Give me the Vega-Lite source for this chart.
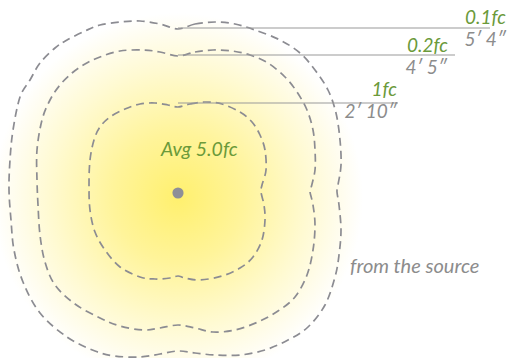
{
  "$schema": "https://vega.github.io/schema/vega-lite/v6.json",
  "width": 510,
  "height": 358,
  "autosize": {"type": "none"},
  "padding": 0,
  "background": "#ffffff",
  "config": {"view": {"stroke": null}},
  "datasets": {
    "contours": [
      {"c":"o","i":1,"dx":0,"dy":163},{"c":"o","i":2,"dx":17,"dy":168},{"c":"o","i":3,"dx":37,"dy":170},{"c":"o","i":4,"dx":57,"dy":168},{"c":"o","i":5,"dx":77,"dy":162},{"c":"o","i":6,"dx":102,"dy":152},{"c":"o","i":7,"dx":122,"dy":139},{"c":"o","i":8,"dx":137,"dy":122},{"c":"o","i":9,"dx":150,"dy":102},{"c":"o","i":10,"dx":158,"dy":79},{"c":"o","i":11,"dx":162,"dy":52},{"c":"o","i":12,"dx":163,"dy":27},{"c":"o","i":13,"dx":160,"dy":7},{"c":"o","i":14,"dx":159,"dy":0},{"c":"o","i":15,"dx":161,"dy":-13},{"c":"o","i":16,"dx":163,"dy":-38},{"c":"o","i":17,"dx":161,"dy":-63},{"c":"o","i":18,"dx":157,"dy":-85},{"c":"o","i":19,"dx":147,"dy":-113},{"c":"o","i":20,"dx":130,"dy":-135},{"c":"o","i":21,"dx":110,"dy":-148},{"c":"o","i":22,"dx":87,"dy":-158},{"c":"o","i":23,"dx":62,"dy":-163},{"c":"o","i":24,"dx":37,"dy":-163},{"c":"o","i":25,"dx":17,"dy":-161},{"c":"o","i":26,"dx":0,"dy":-159},{"c":"o","i":27,"dx":-18,"dy":-162},{"c":"o","i":28,"dx":-38,"dy":-165},{"c":"o","i":29,"dx":-63,"dy":-164},{"c":"o","i":30,"dx":-83,"dy":-159},{"c":"o","i":31,"dx":-111,"dy":-145},{"c":"o","i":32,"dx":-138,"dy":-121},{"c":"o","i":33,"dx":-155,"dy":-90},{"c":"o","i":34,"dx":-164,"dy":-58},{"c":"o","i":35,"dx":-167,"dy":-28},{"c":"o","i":36,"dx":-169,"dy":2},{"c":"o","i":37,"dx":-168,"dy":32},{"c":"o","i":38,"dx":-165,"dy":62},{"c":"o","i":39,"dx":-158,"dy":95},{"c":"o","i":40,"dx":-148,"dy":112},{"c":"o","i":41,"dx":-138,"dy":129},{"c":"o","i":42,"dx":-123,"dy":144},{"c":"o","i":43,"dx":-111,"dy":152},{"c":"o","i":44,"dx":-93,"dy":161},{"c":"o","i":45,"dx":-78,"dy":167},{"c":"o","i":46,"dx":-58,"dy":170},{"c":"o","i":47,"dx":-38,"dy":171},{"c":"o","i":48,"dx":-18,"dy":168},
      {"c":"m","i":1,"dx":0,"dy":136},{"c":"m","i":2,"dx":17,"dy":140},{"c":"m","i":3,"dx":35,"dy":142},{"c":"m","i":4,"dx":54,"dy":141},{"c":"m","i":5,"dx":72,"dy":137},{"c":"m","i":6,"dx":90,"dy":129},{"c":"m","i":7,"dx":107,"dy":115},{"c":"m","i":8,"dx":119,"dy":100},{"c":"m","i":9,"dx":129,"dy":82},{"c":"m","i":10,"dx":135,"dy":62},{"c":"m","i":11,"dx":137,"dy":42},{"c":"m","i":12,"dx":137,"dy":22},{"c":"m","i":13,"dx":133,"dy":4},{"c":"m","i":14,"dx":132,"dy":0},{"c":"m","i":15,"dx":135,"dy":-13},{"c":"m","i":16,"dx":137,"dy":-33},{"c":"m","i":17,"dx":135,"dy":-58},{"c":"m","i":18,"dx":129,"dy":-83},{"c":"m","i":19,"dx":117,"dy":-105},{"c":"m","i":20,"dx":100,"dy":-119},{"c":"m","i":21,"dx":80,"dy":-130},{"c":"m","i":22,"dx":57,"dy":-138},{"c":"m","i":23,"dx":35,"dy":-140},{"c":"m","i":24,"dx":17,"dy":-136},{"c":"m","i":25,"dx":0,"dy":-133},{"c":"m","i":26,"dx":-18,"dy":-136},{"c":"m","i":27,"dx":-35,"dy":-138},{"c":"m","i":28,"dx":-58,"dy":-134},{"c":"m","i":29,"dx":-78,"dy":-126},{"c":"m","i":30,"dx":-103,"dy":-112},{"c":"m","i":31,"dx":-123,"dy":-93},{"c":"m","i":32,"dx":-133,"dy":-70},{"c":"m","i":33,"dx":-138,"dy":-43},{"c":"m","i":34,"dx":-140,"dy":-13},{"c":"m","i":35,"dx":-141,"dy":12},{"c":"m","i":36,"dx":-141,"dy":42},{"c":"m","i":37,"dx":-136,"dy":72},{"c":"m","i":38,"dx":-128,"dy":92},{"c":"m","i":39,"dx":-118,"dy":107},{"c":"m","i":40,"dx":-106,"dy":119},{"c":"m","i":41,"dx":-93,"dy":128},{"c":"m","i":42,"dx":-78,"dy":135},{"c":"m","i":43,"dx":-58,"dy":141},{"c":"m","i":44,"dx":-35,"dy":142},{"c":"m","i":45,"dx":-18,"dy":140},
      {"c":"i","i":1,"dx":0,"dy":85},{"c":"i","i":2,"dx":12,"dy":88},{"c":"i","i":3,"dx":27,"dy":90},{"c":"i","i":4,"dx":44,"dy":88},{"c":"i","i":5,"dx":62,"dy":80},{"c":"i","i":6,"dx":74,"dy":70},{"c":"i","i":7,"dx":82,"dy":57},{"c":"i","i":8,"dx":87,"dy":42},{"c":"i","i":9,"dx":88,"dy":22},{"c":"i","i":10,"dx":84,"dy":7},{"c":"i","i":11,"dx":83,"dy":0},{"c":"i","i":12,"dx":86,"dy":-13},{"c":"i","i":13,"dx":87,"dy":-28},{"c":"i","i":14,"dx":84,"dy":-48},{"c":"i","i":15,"dx":75,"dy":-65},{"c":"i","i":16,"dx":62,"dy":-76},{"c":"i","i":17,"dx":44,"dy":-84},{"c":"i","i":18,"dx":22,"dy":-88},{"c":"i","i":19,"dx":7,"dy":-86},{"c":"i","i":20,"dx":0,"dy":-84},{"c":"i","i":21,"dx":-8,"dy":-86},{"c":"i","i":22,"dx":-23,"dy":-87},{"c":"i","i":23,"dx":-38,"dy":-85},{"c":"i","i":24,"dx":-58,"dy":-75},{"c":"i","i":25,"dx":-73,"dy":-58},{"c":"i","i":26,"dx":-83,"dy":-40},{"c":"i","i":27,"dx":-88,"dy":-18},{"c":"i","i":28,"dx":-89,"dy":7},{"c":"i","i":29,"dx":-88,"dy":32},{"c":"i","i":30,"dx":-84,"dy":52},{"c":"i","i":31,"dx":-78,"dy":65},{"c":"i","i":32,"dx":-68,"dy":75},{"c":"i","i":33,"dx":-53,"dy":83},{"c":"i","i":34,"dx":-38,"dy":88},{"c":"i","i":35,"dx":-23,"dy":89},{"c":"i","i":36,"dx":-10,"dy":87}
    ],
    "leaders": [
      {"dx":0,"dx2":312,"dy":164},
      {"dx":0,"dx2":277,"dy":137},
      {"dx":0,"dx2":220,"dy":89}
    ],
    "fcLabels": [
      {"t":"0.1fc","dx":328,"dy":168},
      {"t":"0.2fc","dx":270,"dy":140},
      {"t":"1fc","dx":219,"dy":96}
    ],
    "distLabels": [
      {"t":"5′ 4″","dx":328,"dy":146},
      {"t":"4′ 5″","dx":269,"dy":118},
      {"t":"2′ 10″","dx":219,"dy":74}
    ]
  },
  "layer": [
    {
      "data": {"values": [{"dx": 0, "dy": -6}]},
      "mark": {
        "type": "point", "shape": "circle", "filled": true, "opacity": 1, "size": 136900, "strokeWidth": 0, "clip": true,
        "fill": {"gradient": "radial", "x1": 0.5, "y1": 0.5, "r1": 0, "x2": 0.5, "y2": 0.5, "r2": 0.5,
          "stops": [
            {"offset": 0, "color": "#fff06e"},
            {"offset": 0.35, "color": "#fff49a"},
            {"offset": 0.7, "color": "#fffad2"},
            {"offset": 0.9, "color": "#fffdf0"},
            {"offset": 1, "color": "#ffffff"}
          ]}
      },
      "encoding": {
        "x": {"field": "dx", "type": "quantitative", "scale": {"domain": [-178, 332], "nice": false, "zero": false}, "axis": null},
        "y": {"field": "dy", "type": "quantitative", "scale": {"domain": [-166, 192], "nice": false, "zero": false}, "axis": null}
      }
    },
    {
      "data": {"name": "contours"},
      "mark": {"type": "line", "interpolate": "cardinal-closed", "stroke": "#8c8c92", "strokeWidth": 1.7, "strokeDash": [8, 5]},
      "encoding": {
        "x": {"field": "dx", "type": "quantitative"},
        "y": {"field": "dy", "type": "quantitative"},
        "detail": {"field": "c"},
        "order": {"field": "i", "type": "quantitative"}
      }
    },
    {
      "data": {"name": "leaders"},
      "mark": {"type": "rule", "stroke": "#9a9a9a", "strokeWidth": 1.2},
      "encoding": {
        "x": {"field": "dx", "type": "quantitative"},
        "x2": {"field": "dx2"},
        "y": {"field": "dy", "type": "quantitative"}
      }
    },
    {
      "data": {"name": "fcLabels"},
      "mark": {"type": "text", "align": "right", "baseline": "alphabetic", "font": "Lato", "fontStyle": "italic", "fontSize": 19, "fill": "#6b9a3a"},
      "encoding": {
        "x": {"field": "dx", "type": "quantitative"},
        "y": {"field": "dy", "type": "quantitative"},
        "text": {"field": "t"}
      }
    },
    {
      "data": {"name": "distLabels"},
      "mark": {"type": "text", "align": "right", "baseline": "alphabetic", "font": "Lato", "fontStyle": "italic", "fontSize": 19, "fill": "#8c8c8c"},
      "encoding": {
        "x": {"field": "dx", "type": "quantitative"},
        "y": {"field": "dy", "type": "quantitative"},
        "text": {"field": "t"}
      }
    },
    {
      "data": {"values": [{"t": "Avg 5.0fc", "dx": -17, "dy": 36}]},
      "mark": {"type": "text", "align": "left", "baseline": "alphabetic", "font": "Lato", "fontStyle": "italic", "fontSize": 19.5, "fill": "#6b9a3a"},
      "encoding": {
        "x": {"field": "dx", "type": "quantitative"},
        "y": {"field": "dy", "type": "quantitative"},
        "text": {"field": "t"}
      }
    },
    {
      "data": {"values": [{"t": "from the source", "dx": 172, "dy": -81}]},
      "mark": {"type": "text", "align": "left", "baseline": "alphabetic", "font": "Lato", "fontStyle": "italic", "fontSize": 20, "fill": "#8c8c8c"},
      "encoding": {
        "x": {"field": "dx", "type": "quantitative"},
        "y": {"field": "dy", "type": "quantitative"},
        "text": {"field": "t"}
      }
    },
    {
      "data": {"values": [{"dx": 0, "dy": -1}]},
      "mark": {"type": "point", "shape": "circle", "filled": true, "opacity": 1, "size": 125, "fill": "#8e8f98", "strokeWidth": 0},
      "encoding": {
        "x": {"field": "dx", "type": "quantitative"},
        "y": {"field": "dy", "type": "quantitative"}
      }
    }
  ]
}
